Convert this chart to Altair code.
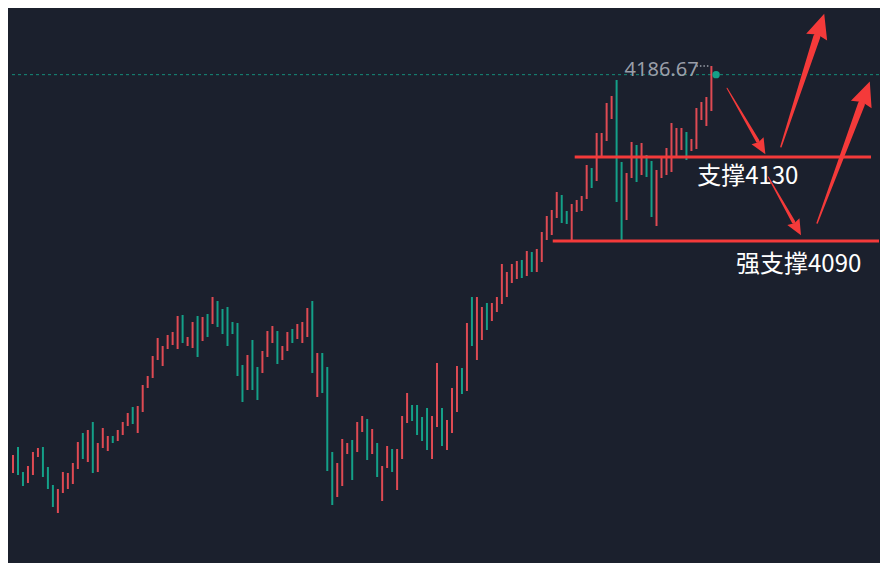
import altair as alt
import pandas as pd

# ---------------- data ----------------
high = [
    3987, 3999.5, 3996.5, 4000.5, 3988, 3991, 3998, 4000, 4000.5, 3990.5,
    3981.5, 3979.5, 3988, 3987.5, 3992.5, 4003, 4007.5, 4009, 4013, 4002.5,
    4010, 4006, 4006, 4009, 4013, 4017.5, 4020.5, 4021, 4031.5, 4036,
    4046, 4055, 4051, 4056.5, 4058, 4066, 4066.5, 4055.5, 4063, 4066,
    4065.5, 4067, 4075.5, 4073.5, 4069.5, 4070.5, 4063, 4062.5, 4041.5, 4046.5,
    4054, 4040.5, 4048.5, 4058.5, 4061, 4058.5, 4051, 4058, 4059.5, 4062,
    4063, 4070, 4073.5, 4047.5, 4047.5, 4040.5, 3998, 3992.5, 4004.5, 4002.5,
    4004, 4013, 4016, 4014.5, 4009.5, 4002.5, 3991, 4001, 3999.5, 3999.5,
    4016, 4027.5, 4021.5, 4021.5, 4015.5, 4020, 4016, 4042.5, 4020, 4014,
    4030, 4041, 4040, 4062.5, 4075.5, 4075.5, 4070.5, 4072.5, 4072.5, 4075.5,
    4092, 4088, 4092, 4093.5, 4094, 4098.5, 4098, 4099.5, 4108, 4116,
    4119, 4128, 4126.5, 4118.5, 4122, 4124, 4126, 4141.5, 4140, 4157.5,
    4157.5, 4172.5, 4176, 4184, 4143, 4137.5, 4153, 4151.5, 4152.5, 4146.5,
    4143.5, 4139, 4145.5, 4150, 4162.5, 4160, 4160, 4158, 4154.5, 4170,
    4173, 4175.5, 4191,
]
low = [
    3982.5, 3984, 3987.5, 3986.5, 3981, 3982.5, 3986.5, 3995.5, 3985.5, 3979.5,
    3970.5, 3967.5, 3977.5, 3979.5, 3982, 3989.5, 3994.5, 3993, 3987.5, 3988,
    4000, 3998.5, 4002.5, 4003.5, 4006.5, 4011, 4012, 4007.5, 4018, 4030,
    4035, 4044, 4041, 4049.5, 4051.5, 4049.5, 4052.5, 4051, 4050, 4045.5,
    4053.5, 4055.5, 4062, 4060.5, 4057, 4051, 4057, 4036, 4023, 4029,
    4029, 4024, 4037.5, 4045.5, 4052.5, 4042, 4044, 4048.5, 4052.5, 4054.5,
    4052.5, 4055.5, 4037.5, 4025.5, 4027.5, 3988.5, 3971.5, 3975.5, 3981, 3997,
    3984, 3998, 4008, 3994, 3997, 3985.5, 3973.5, 3990, 3988, 3979,
    3994.5, 4012.5, 4013.5, 4006.5, 4003.5, 3999, 3994.5, 4010.5, 4001, 3999,
    4007.5, 4018, 4027, 4028.5, 4051, 4044, 4054, 4059, 4063.5, 4068,
    4072, 4075.5, 4082.5, 4084.5, 4085, 4086, 4088, 4088, 4093, 4104,
    4106.5, 4115, 4112.5, 4112, 4103.5, 4118, 4118.5, 4124.5, 4130, 4133.5,
    4145.5, 4153.5, 4164.5, 4123, 4104, 4114, 4135, 4133, 4136.5, 4135.5,
    4115.5, 4111, 4135, 4136.5, 4138, 4145.5, 4149, 4144, 4148.5, 4149.5,
    4164, 4161, 4168.5,
]
direction = [
    "u", "u", "u", "d", "d", "u", "u", "u", "d", "d",
    "d", "u", "u", "u", "u", "u", "d", "u", "d", "u",
    "u", "u", "d", "u", "u", "u", "d", "u", "u", "u",
    "u", "u", "u", "u", "u", "u", "d", "u", "u", "d",
    "u", "d", "u", "d", "d", "d", "d", "d", "d", "u",
    "d", "d", "u", "u", "u", "d", "u", "u", "d", "u",
    "u", "u", "d", "u", "d", "d", "d", "u", "u", "u",
    "d", "u", "u", "d", "u", "d", "u", "u", "d", "u",
    "u", "u", "d", "d", "d", "d", "u", "u", "d", "u",
    "u", "u", "d", "u", "d", "u", "u", "d", "u", "u",
    "u", "u", "u", "u", "d", "u", "d", "u", "u", "u",
    "u", "u", "d", "d", "u", "u", "u", "u", "d", "u",
    "u", "u", "u", "d", "d", "u", "u", "d", "u", "d",
    "d", "u", "u", "u", "u", "u", "u", "d", "u", "u",
    "u", "u", "u",
]

last_price = 4186.67
last_label = ["4186.67"]

# support lines (start bar, end bar, level) and their captions
support_start = [114.6, 110.2]
support_end = [174.0, 180.0]
support_level = [4145.5, 4103.5]
support_text = ["支撑4130", "强支撑4090"]
support_text_x = [149.3, 159.5]
support_text_y = [4135.5, 4091.5]

# arrow shafts: tail -> head base
shaft_id = ["a", "a", "b", "b", "c", "c", "d", "d"]
shaft_seq = [0, 1] * 4
shaft_x = [145.14, 151.28, 155.94, 163.12, 153.4, 158.46, 163.2, 172.06]
shaft_y = [4179.85, 4153.5, 4150.65, 4205.6, 4135.5, 4113.05, 4112.5, 4171.9]
shaft_w = [1, 3.5, 1.5, 7, 1, 3.5, 1.5, 7]

# arrow heads: centre, rotation (deg clockwise from up), size (px^2)
head_x = [152.04, 163.86, 159.2, 172.9]
head_y = [4150.25, 4211.3, 4109.8, 4177.5]
head_angle = [149.7, 18.0, 150.6, 20.4]
head_size = [240, 600, 240, 600]

# ---------------- styling ----------------
BG = "#1b202d"
RED = "#df4a53"
TEAL = "#14a088"
LINE_RED = "#f43a3a"
GREY = "#9a9ea8"
HEAD_SHAPE = "M0,-1L0.9,1L0,0.78L-0.9,1Z"

W, H = 872, 555
xs = alt.Scale(domain=[1.2, 175.6], nice=False, zero=False)
ys = alt.Scale(domain=[3942.5, 4220], nice=False, zero=False)

bars_df = pd.DataFrame({"i": list(range(len(high))), "high": high, "low": low, "dir": direction})

bars = alt.Chart(bars_df).mark_rule(strokeWidth=2, clip=True).encode(
    x=alt.X("i:Q", scale=xs, axis=None),
    y=alt.Y("high:Q", scale=ys, axis=None),
    y2="low:Q",
    color=alt.Color("dir:N", scale=alt.Scale(domain=["u", "d"], range=[RED, TEAL]), legend=None),
)

last_df = pd.DataFrame({"p": [last_price], "i": [142.94], "label": last_label,
                        "lx": [124.6], "ly": [4186.0], "d1": [139.0], "d2": [141.6], "dy": [4191.0]})

dash = alt.Chart(last_df).mark_rule(color=TEAL, strokeDash=[3, 3], strokeWidth=1, opacity=0.85).encode(
    y=alt.Y("p:Q", scale=ys, axis=None)
)

price_text = alt.Chart(last_df).mark_text(
    color=GREY, fontSize=20, font="Noto Sans", align="left", baseline="alphabetic"
).encode(
    x=alt.X("lx:Q", scale=xs, axis=None),
    y=alt.Y("ly:Q", scale=ys, axis=None),
    text="label:N",
)

dots_leader = alt.Chart(last_df).mark_rule(color=GREY, strokeDash=[1.5, 2], strokeWidth=1.5).encode(
    x=alt.X("d1:Q", scale=xs, axis=None),
    x2="d2:Q",
    y=alt.Y("dy:Q", scale=ys, axis=None),
)

dot = alt.Chart(last_df).mark_point(filled=True, color=TEAL, size=55, opacity=1).encode(
    x=alt.X("i:Q", scale=xs, axis=None),
    y=alt.Y("p:Q", scale=ys, axis=None),
)

sup_df = pd.DataFrame({"s": support_start, "e": support_end, "lvl": support_level})
supports = alt.Chart(sup_df).mark_rule(color=LINE_RED, strokeWidth=3, clip=True).encode(
    x=alt.X("s:Q", scale=xs, axis=None),
    x2="e:Q",
    y=alt.Y("lvl:Q", scale=ys, axis=None),
)

txt_df = pd.DataFrame({"tx": support_text_x, "ty": support_text_y, "t": support_text})
captions = alt.Chart(txt_df).mark_text(
    color="#ffffff", fontSize=24, font="Noto Sans CJK SC", align="center", baseline="middle"
).encode(
    x=alt.X("tx:Q", scale=xs, axis=None),
    y=alt.Y("ty:Q", scale=ys, axis=None),
    text="t:N",
)

shaft_df = pd.DataFrame({"id": shaft_id, "seq": shaft_seq, "ax": shaft_x, "ay": shaft_y, "w": shaft_w})
shafts = alt.Chart(shaft_df).mark_trail(color=LINE_RED, clip=True).encode(
    x=alt.X("ax:Q", scale=xs, axis=None),
    y=alt.Y("ay:Q", scale=ys, axis=None),
    size=alt.Size("w:Q", scale=None, legend=None),
    detail="id:N",
    order="seq:Q",
)

head_df = pd.DataFrame({"hx": head_x, "hy": head_y, "ang": head_angle, "sz": head_size})
heads = alt.Chart(head_df).mark_point(
    shape=HEAD_SHAPE, filled=True, color=LINE_RED, opacity=1, strokeWidth=0, clip=True
).encode(
    x=alt.X("hx:Q", scale=xs, axis=None),
    y=alt.Y("hy:Q", scale=ys, axis=None),
    angle=alt.Angle("ang:Q", scale=None),
    size=alt.Size("sz:Q", scale=None, legend=None),
)

chart = alt.layer(
    dash, bars, supports, dots_leader, price_text, dot, shafts, heads, captions
).properties(
    width=W, height=H,
    autosize=alt.AutoSizeParams(type="fit", contains="padding"),
    padding=0,
    background=BG,
).configure_view(stroke=None)

chart.save("out.html", embed_options={"renderer": "svg", "actions": False})
